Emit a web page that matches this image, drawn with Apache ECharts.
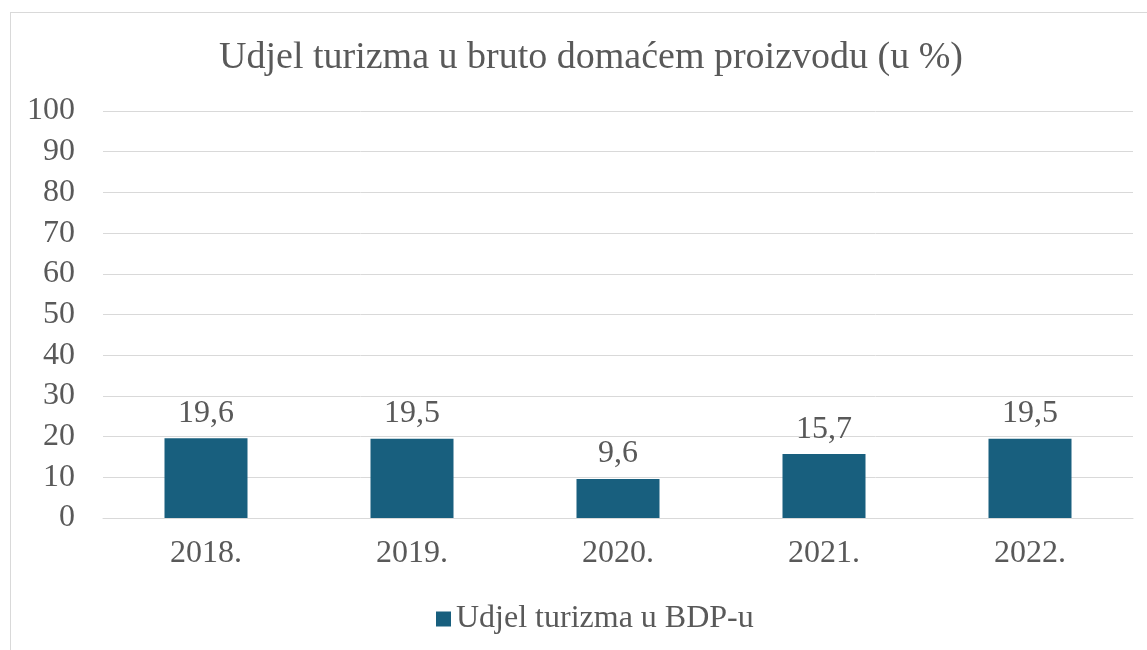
<!DOCTYPE html>
<html lang="hr">
<head>
    <meta charset="UTF-8">
    <title>Udjel turizma u BDP-u</title>
    <script src="https://cdn.jsdelivr.net/npm/echarts@6/dist/echarts.min.js"></script>
    <style>
        html, body { margin: 0; padding: 0; background: #fff; }
        #frame {
            position: absolute; left: 10px; top: 12px;
            width: 1160px; height: 660px;
            border: 1px solid #d9d9d9;
        }
        #chart { position: absolute; left: 0; top: 0; width: 1147px; height: 650px; }
    </style>
</head>
<body>
    <div id="frame"></div>
    <div id="chart"></div>
<script>
    var years = ['2018.', '2019.', '2020.', '2021.', '2022.'];
    var shares = [19.6, 19.5, 9.6, 15.7, 19.5];
    var seriesName = 'Udjel turizma u BDP-u';
    var titleText = 'Udjel turizma u bruto domaćem proizvodu (u %)';

    var font = '"Liberation Serif", "Times New Roman", serif';
    var grey = '#595959';

    var myChart = echarts.init(document.getElementById('chart'));
    myChart.setOption({
        animation: false,
        title: {
            text: titleText,
            left: 586,
            top: 34,
            textAlign: 'center',
            textStyle: { fontFamily: font, fontSize: 38, fontWeight: 'normal', color: grey }
        },
        legend: {
            data: [seriesName],
            left: 431,
            top: 598,
            itemWidth: 15,
            itemHeight: 15,
            itemGap: 8,
            icon: 'rect',
            textStyle: { fontFamily: font, fontSize: 32, color: grey }
        },
        grid: { left: 103, right: 14, top: 111, bottom: 132 },
        xAxis: {
            type: 'category',
            data: years,
            axisLine: { lineStyle: { color: '#d9d9d9', width: 1 } },
            axisTick: { show: false },
            axisLabel: { fontFamily: font, fontSize: 32, color: grey, margin: 20 }
        },
        yAxis: {
            type: 'value',
            min: 0,
            max: 100,
            interval: 10,
            axisLine: { show: false },
            axisTick: { show: false },
            splitLine: { lineStyle: { color: '#d9d9d9', width: 1 } },
            axisLabel: { fontFamily: font, fontSize: 32, color: grey, margin: 28 }
        },
        series: [{
            name: seriesName,
            type: 'bar',
            data: shares,
            barWidth: 83,
            itemStyle: { color: '#185F7E' },
            label: {
                show: true,
                position: 'top',
                distance: 9,
                fontFamily: font,
                fontSize: 32,
                color: grey,
                formatter: function (p) { return p.value.toFixed(1).replace('.', ','); }
            }
        }]
    });
</script>
</body>
</html>
